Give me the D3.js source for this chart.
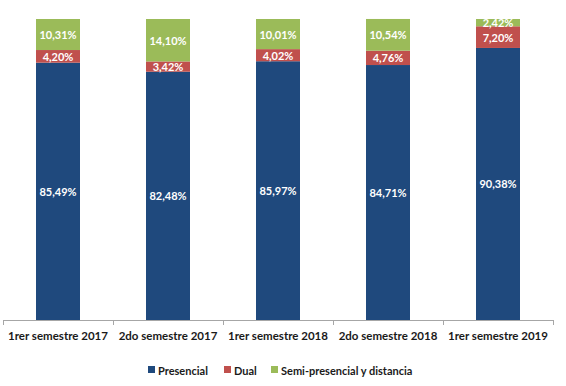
<!DOCTYPE html>
<html>
<head>
<meta charset="utf-8">
<script src="https://cdn.jsdelivr.net/npm/d3@7"></script>
<style>
  body { margin: 0; background: #fff; }
  svg { display: block; font-family: Lato, "Open Sans", sans-serif; }
</style>
</head>
<body>
<div id="viz"></div>
<script>
const categories = ['1rer semestre 2017', '2do semestre 2017', '1rer semestre 2018', '2do semestre 2018', '1rer semestre 2019'];
const seriesNames = ['Presencial', 'Dual', 'Semi-presencial y distancia'];
const presencial = [85.49, 82.48, 85.97, 84.71, 90.38];
const dual = [4.20, 3.42, 4.02, 4.76, 7.20];
const semi = [10.31, 14.10, 10.01, 10.54, 2.42];
const colors = ['#1f497d', '#c0504d', '#9bbb59'];

const width = 566, height = 386;
const margin = { left: 3, right: 13, top: 19, bottom: 66 };

const svg = d3.select('#viz').append('svg')
  .attr('width', width)
  .attr('height', height);

const rows = categories.map((c, i) => ({ cat: c, s0: presencial[i], s1: dual[i], s2: semi[i] }));
const stack = d3.stack().keys(['s0', 's1', 's2']);
const layers = stack(rows);

const x = d3.scaleBand().domain(categories).range([margin.left, width - margin.right]).paddingInner(0.6).paddingOuter(0.3);
const y = d3.scaleLinear().domain([0, 100]).range([height - margin.bottom, margin.top]);

const fmt = v => v.toFixed(2).replace('.', ',') + '%';

layers.forEach((layer, li) => {
  const g = svg.append('g');
  g.selectAll('rect').data(layer).enter().append('rect')
    .attr('x', d => x(d.data.cat))
    .attr('width', x.bandwidth())
    .attr('y', d => y(d[1]))
    .attr('height', d => y(d[0]) - y(d[1]))
    .attr('fill', colors[li]);
  g.selectAll('text').data(layer).enter().append('text')
    .attr('x', d => x(d.data.cat) + x.bandwidth() / 2)
    .attr('y', d => (y(d[0]) + y(d[1])) / 2)
    .attr('text-anchor', 'middle')
    .attr('dominant-baseline', 'central')
    .attr('font-size', 11)
    .attr('font-weight', 700)
    .attr('fill', '#fff')
    .text(d => fmt(d[1] - d[0]));
});

// axis
const axisY = y(0);
const step = x.step();
const x0 = margin.left, x1 = width - margin.right;
svg.append('line').attr('x1', x0).attr('x2', x1).attr('y1', axisY + 0.5).attr('y2', axisY + 0.5)
  .attr('stroke', '#a6a6a6');
const tickPos = d3.range(categories.length + 1).map(i => x0 + (x1 - x0) * i / categories.length);
svg.selectAll('.tick').data(tickPos).enter().append('line')
  .attr('x1', d => Math.round(d) + 0.5).attr('x2', d => Math.round(d) + 0.5)
  .attr('y1', axisY).attr('y2', axisY + 5)
  .attr('stroke', '#a6a6a6');
svg.selectAll('.cat').data(categories).enter().append('text')
  .attr('x', d => x(d) + x.bandwidth() / 2)
  .attr('y', axisY + 20)
  .attr('text-anchor', 'middle')
  .attr('font-size', 11.5)
  .attr('font-weight', 700)
  .attr('fill', '#1a1a1a')
  .text(d => d);

// legend
const legendX = [148, 224, 271];
const legY = 370;
seriesNames.forEach((n, i) => {
  svg.append('rect').attr('x', legendX[i]).attr('y', legY - 4).attr('width', 7).attr('height', 7).attr('fill', colors[i]);
  svg.append('text').attr('x', legendX[i] + 10).attr('y', legY)
    .attr('dominant-baseline', 'central')
    .attr('font-size', 11)
    .attr('font-weight', 700)
    .attr('fill', '#1a1a1a')
    .text(n);
});
</script>
</body>
</html>
